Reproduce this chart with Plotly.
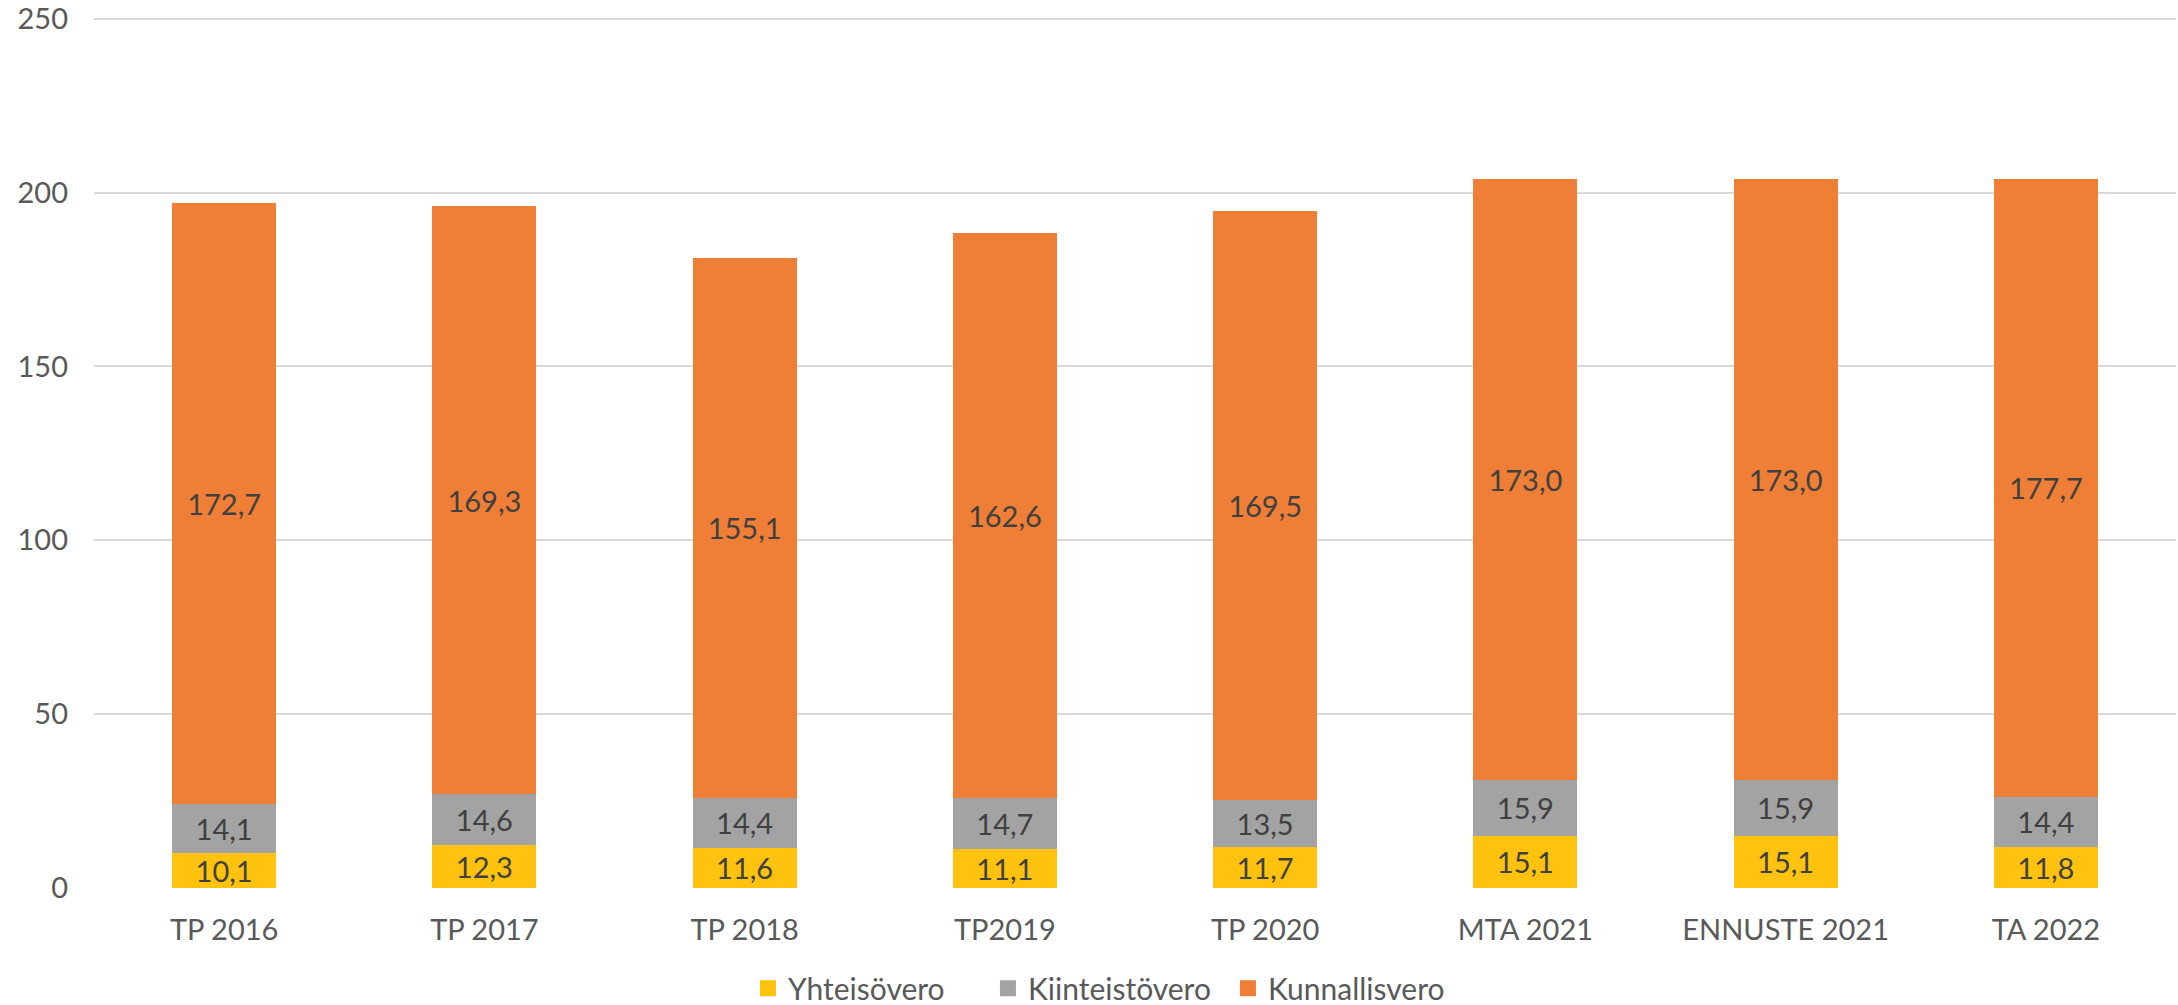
import plotly.graph_objects as go

categories = ["TP 2016", "TP 2017", "TP 2018", "TP2019", "TP 2020", "MTA 2021", "ENNUSTE 2021", "TA 2022"]
yhteisovero = [10.1, 12.3, 11.6, 11.1, 11.7, 15.1, 15.1, 11.8]
kiinteistovero = [14.1, 14.6, 14.4, 14.7, 13.5, 15.9, 15.9, 14.4]
kunnallisvero = [172.7, 169.3, 155.1, 162.6, 169.5, 173.0, 173.0, 177.7]
y_ticks = [0, 50, 100, 150, 200, 250]

FONT = "Lato"
series = [
    ("Yhteisövero", yhteisovero, "#FFC20E"),
    ("Kiinteistövero", kiinteistovero, "#A3A3A3"),
    ("Kunnallisvero", kunnallisvero, "#EF7E36"),
]

fig = go.Figure()
for name, vals, col in series:
    fig.add_trace(go.Bar(
        x=categories, y=vals, name=name,
        marker=dict(color=col, line=dict(width=0)),
        texttemplate="%{y:.1f}",
        textposition="inside",
        insidetextanchor="middle",
        constraintext="none",
        textfont=dict(family=FONT, size=29, color="#404040"),
        hoverinfo="skip",
        showlegend=False,
    ))
# legend entries (larger square swatches like the reference)
for name, vals, col in series:
    fig.add_trace(go.Scatter(
        x=[None], y=[None], name=name, mode="markers",
        marker=dict(symbol="square", size=18, color=col),
        hoverinfo="skip",
    ))

fig.update_layout(
    width=2178, height=1005,
    barmode="stack", bargap=0.6,
    separators=", ",
    plot_bgcolor="white", paper_bgcolor="white",
    margin=dict(l=94, r=2, t=17, b=117, autoexpand=False),
    font=dict(family=FONT, size=29, color="#595959"),
    showlegend=True,
    legend=dict(orientation="h", x=0.487, xanchor="center", y=-0.115, yanchor="middle",
                traceorder="normal", font=dict(family=FONT, size=30, color="#595959"),
                itemwidth=30, entrywidth=195, entrywidthmode="pixels"),
)
fig.update_yaxes(range=[0, 250.5], tickvals=y_ticks, showgrid=True, gridcolor="#D9D9D9", gridwidth=2,
                 zeroline=False, showline=False, ticks="", ticklabelstandoff=25, automargin=False,
                 ticklabeloverflow="allow",
                 tickfont=dict(family=FONT, size=29, color="#595959"))
fig.update_xaxes(showgrid=False, showline=False, ticks="", ticklabelstandoff=22, automargin=False,
                 tickfont=dict(family=FONT, size=29, color="#595959"))

fig.write_html("out.html", config={"displayModeBar": False},
               post_script="document.body.style.margin='0';document.body.style.overflow='hidden';")
